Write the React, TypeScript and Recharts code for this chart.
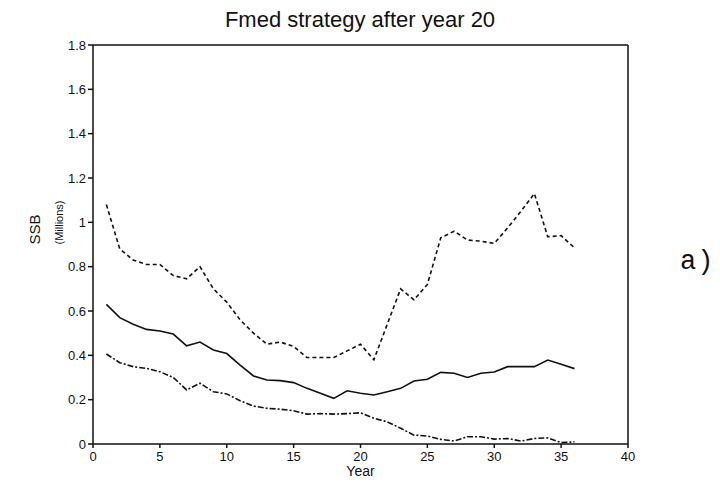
import { Label, Line, LineChart, ReferenceLine, XAxis, YAxis } from 'recharts';

const years = [
  1, 2, 3, 4, 5, 6, 7, 8, 9, 10, 11, 12, 13, 14, 15, 16, 17, 18, 19, 20, 21, 22, 23, 24, 25, 26, 27, 28, 29, 30, 31,
  32, 33, 34, 35, 36,
];
const upper = [
  1.08, 0.88, 0.83, 0.81, 0.81, 0.76, 0.745, 0.8, 0.7, 0.64, 0.56, 0.5, 0.45, 0.46, 0.44, 0.39, 0.39, 0.39, 0.42,
  0.45, 0.38, 0.54, 0.7, 0.65, 0.72, 0.93, 0.96, 0.92, 0.915, 0.905, 0.975, 1.05, 1.13, 0.935, 0.94, 0.885,
];
const median = [
  0.63, 0.57, 0.54, 0.517, 0.51, 0.496, 0.443, 0.46, 0.424, 0.408, 0.356, 0.307, 0.289, 0.286, 0.277, 0.251, 0.229,
  0.206, 0.24, 0.229, 0.221, 0.236, 0.251, 0.284, 0.292, 0.323, 0.319, 0.3, 0.319, 0.325, 0.349, 0.349, 0.349,
  0.379, 0.36, 0.34,
];
const lower = [
  0.406, 0.367, 0.349, 0.341, 0.326, 0.3, 0.244, 0.274, 0.236, 0.226, 0.195, 0.171, 0.161, 0.157, 0.15, 0.135, 0.137,
  0.135, 0.137, 0.141, 0.116, 0.1, 0.071, 0.04, 0.036, 0.021, 0.013, 0.033, 0.033, 0.022, 0.025, 0.013, 0.025,
  0.028, 0.006, 0.01,
];
const xTicks = [0, 5, 10, 15, 20, 25, 30, 35, 40];
const yTicks = [0, 0.2, 0.4, 0.6, 0.8, 1, 1.2, 1.4, 1.6, 1.8];

const rows = years.map((year, i) => ({ year, upper: upper[i], median: median[i], lower: lower[i] }));

const font = '"Liberation Sans", Arial, sans-serif';
const tickStyle = { fill: '#111', fontSize: 13, fontFamily: font };

export default function App() {
  return (
    <div style={{ position: 'absolute', left: 0, top: 0, width: 720, height: 494, background: '#fff' }}>
      <div
        style={{
          position: 'absolute',
          top: 6,
          left: 0,
          width: 720,
          textAlign: 'center',
          fontFamily: font,
          fontSize: 22,
          lineHeight: '28px',
          color: '#111',
        }}
      >
        Fmed strategy after year 20
      </div>
      <div
        style={{
          position: 'absolute',
          top: 246,
          left: 680,
          fontFamily: '"Liberation Mono", "DejaVu Sans Mono", monospace',
          fontSize: 27,
          lineHeight: '32px',
          letterSpacing: 1,
          color: '#111',
        }}
      >
        a)
      </div>
      <LineChart width={720} height={494} data={rows} margin={{ top: 45, right: 92, bottom: 20, left: 23 }}>
        <XAxis
          dataKey="year"
          type="number"
          domain={[0, 40]}
          ticks={xTicks}
          interval={0}
          tick={{ ...tickStyle, dy: 2 }}
          tickSize={4}
          stroke="#111"
          strokeWidth={1.5}
          height={30}
        >
          <Label value="Year" position="insideBottom" offset={-2} style={{ ...tickStyle, fontSize: 14 }} />
        </XAxis>
        <YAxis
          type="number"
          domain={[0, 1.8]}
          ticks={yTicks}
          interval={0}
          tick={tickStyle}
          tickSize={5}
          stroke="#111"
          strokeWidth={1.5}
          width={70}
          tickFormatter={(v: number) => String(Number(v.toFixed(1)))}
        >
          <Label value="SSB" angle={-90} position="insideLeft" offset={12} style={{ ...tickStyle, fontSize: 15 }} />
          <Label value="(Millions)" angle={-90} position="insideLeft" offset={36} style={{ ...tickStyle, fontSize: 11 }} />
        </YAxis>
        <ReferenceLine y={1.8} stroke="#111" strokeWidth={1.5} />
        <ReferenceLine x={40} stroke="#111" strokeWidth={1.5} />
        <Line dataKey="upper" stroke="#111" strokeWidth={1.6} strokeDasharray="4 3" dot={false} isAnimationActive={false} />
        <Line dataKey="median" stroke="#111" strokeWidth={1.6} dot={false} isAnimationActive={false} />
        <Line dataKey="lower" stroke="#111" strokeWidth={1.6} strokeDasharray="6 2 2 2" dot={false} isAnimationActive={false} />
      </LineChart>
    </div>
  );
}
